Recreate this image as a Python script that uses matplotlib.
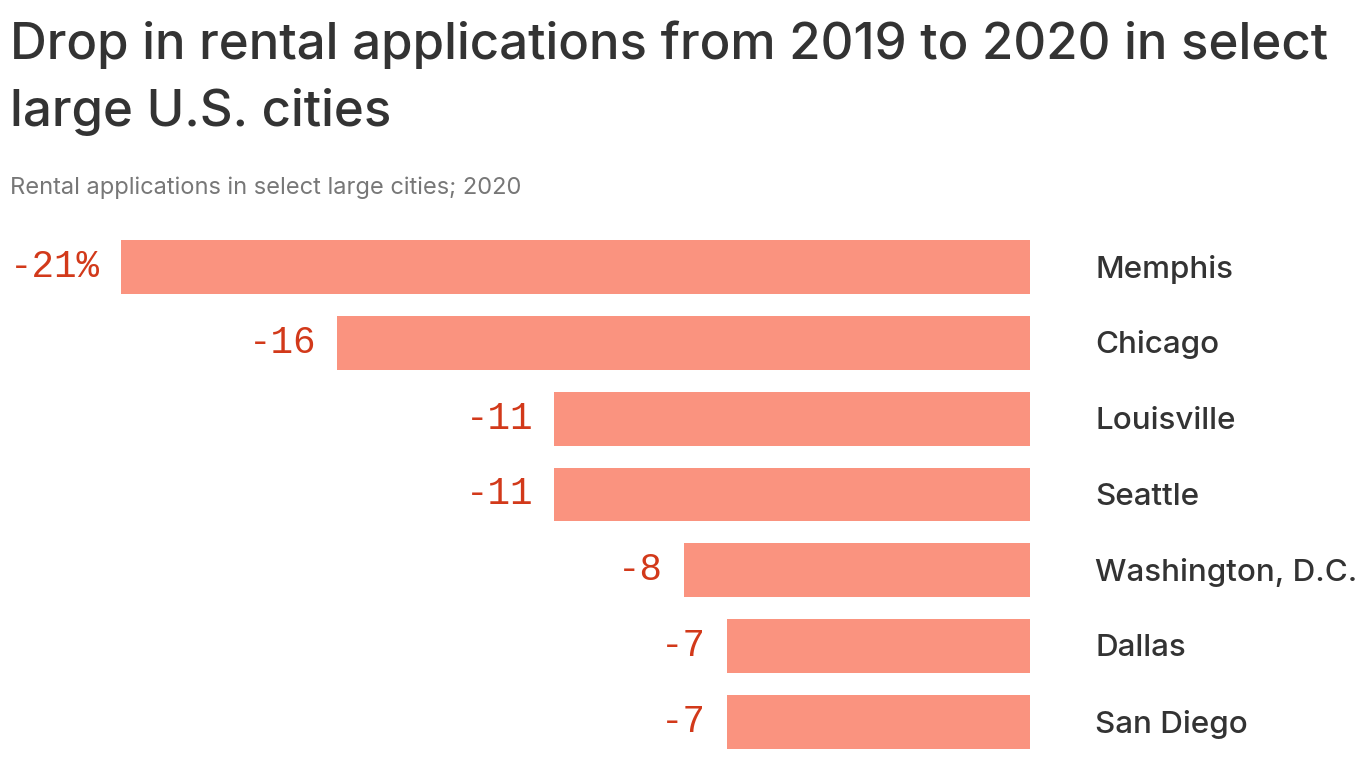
import matplotlib.pyplot as plt

cities = ["Memphis", "Chicago", "Louisville", "Seattle", "Washington, D.C.", "Dallas", "San Diego"]
change = [-21, -16, -11, -11, -8, -7, -7]
value_labels = ["-21%", "-16", "-11", "-11", "-8", "-7", "-7"]

W, H = 1366, 768
fig = plt.figure(figsize=(W / 100, H / 100), dpi=100)
fig.patch.set_facecolor("white")

# axes placed so bars run from the left edge of the longest bar to x=1030px
ax = fig.add_axes([121 / W, 1 - 749 / H, 909 / W, 509 / H])
y = list(range(len(cities)))
ax.barh(y, change, height=0.712, color="#fa937f", left=0)
ax.set_xlim(-21, 0)
ax.set_ylim(len(cities) - 1 + 0.356, -0.356)
ax.axis("off")

for i, (v, lab, city) in enumerate(zip(change, value_labels, cities)):
    ax.annotate(lab, xy=(v, i), xytext=(-15, 0), textcoords="offset points",
                ha="right", va="center", fontsize=27, color="#d2391a",
                family="Liberation Mono")
    ax.annotate(city, xy=(0, i), xytext=(47, -1.5), textcoords="offset points",
                ha="left", va="center", fontsize=22.6, color="#333333",
                family="Inter", fontweight="medium")

fig.text(10 / W, 1 - 20 / H, "Drop in rental applications from 2019 to 2020 in select\nlarge U.S. cities",
         ha="left", va="top", fontsize=36.7, color="#333333", family="Inter",
         fontweight="medium", linespacing=1.5)
fig.text(10 / W, 1 - 188 / H, "Rental applications in select large cities; 2020",
         ha="left", va="center", fontsize=17, color="#777777", family="Inter")

fig.savefig("out.png", dpi=100)
